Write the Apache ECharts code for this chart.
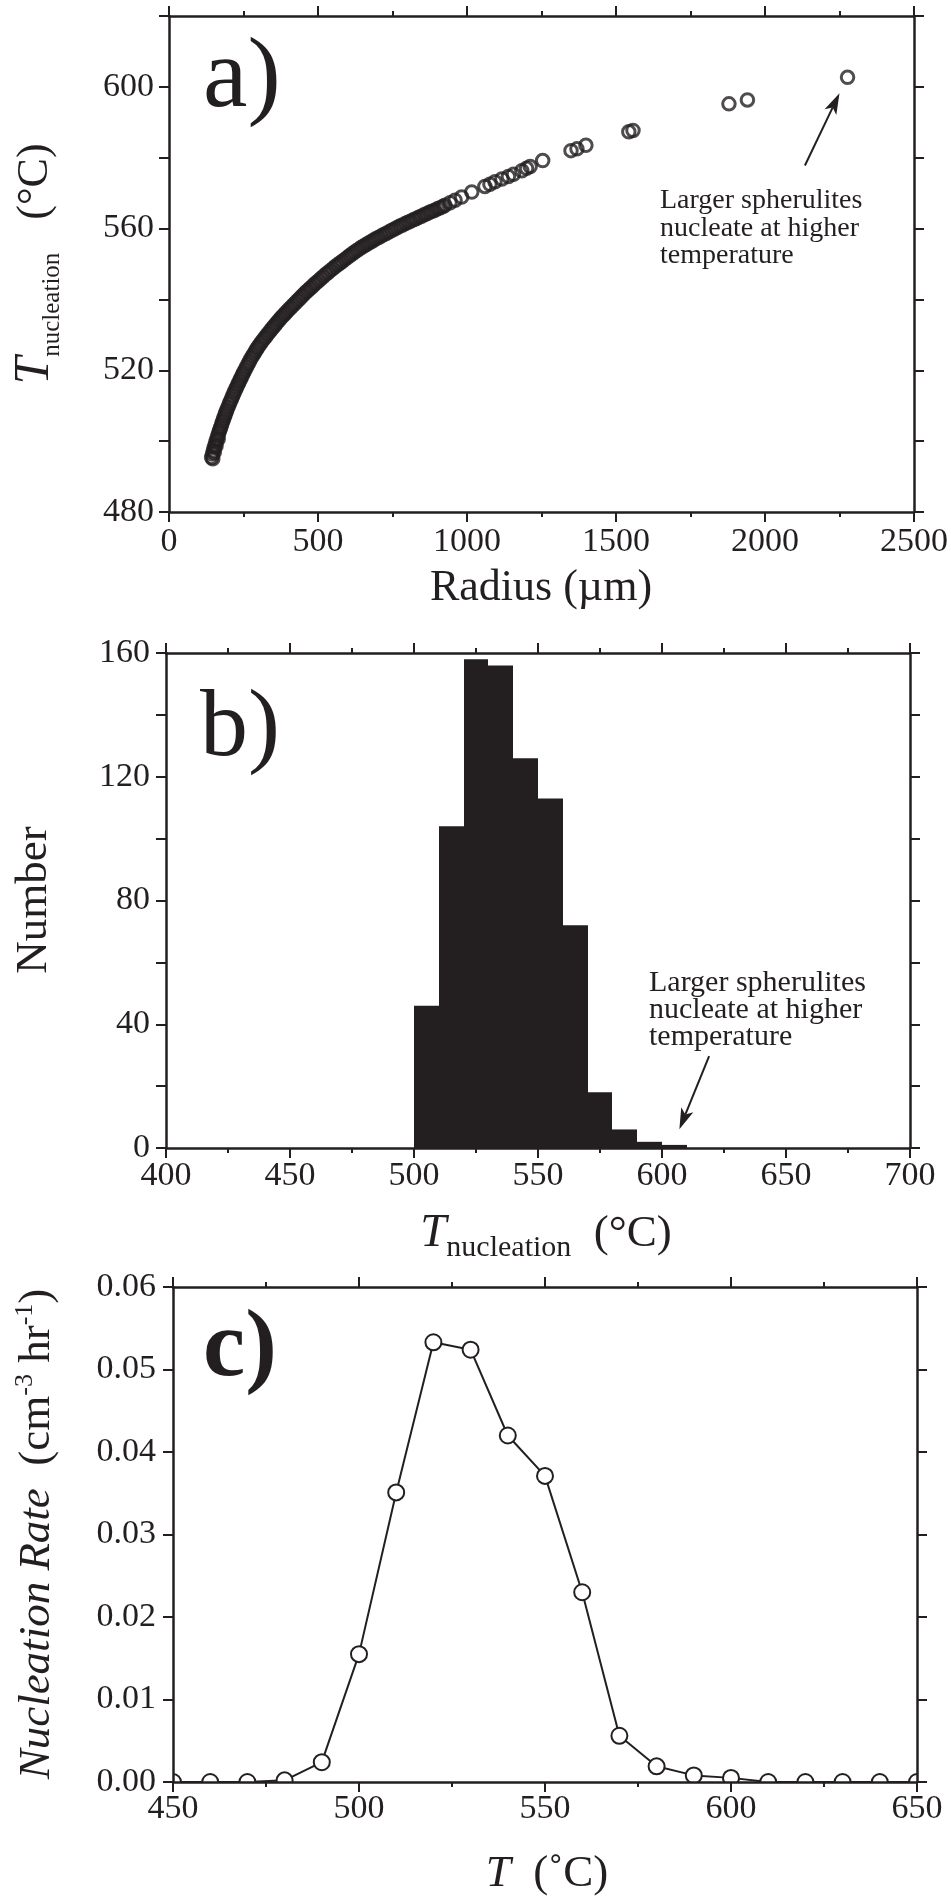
<!DOCTYPE html>
<html>
<head>
<meta charset="utf-8">
<title>Spherulite nucleation</title>
<script src="https://cdn.jsdelivr.net/npm/echarts@6/dist/echarts.min.js"></script>
<style>
  html, body { margin: 0; padding: 0; background: #fff; }
  #main { width: 951px; height: 1900px; }
</style>
</head>
<body>
<div id="main"></div>
<script>
  // a) nucleation temperature against spherulite radius (read off the plot)
  var radius = [143, 146, 149, 152, 155, 158, 161, 164, 167, 170, 173, 176, 179, 182, 185, 188, 191, 194,
    198, 202, 206, 210, 214, 218, 222, 226, 230, 234, 238, 242, 246, 250,
    255, 260, 265, 270, 275, 280, 285, 290, 295, 300,
    306, 312, 318, 324, 330, 336, 342, 348, 354, 360, 366, 372, 378, 384, 390, 396,
    403, 410, 417, 424, 431, 438, 445, 452, 459, 466, 473, 480, 487, 494,
    502, 510, 518, 526, 534, 542, 550, 558, 566, 574, 582, 590, 598, 606, 614, 622, 630, 638, 646, 654, 662, 670, 678, 686, 694,
    703, 712, 721, 730, 739, 748, 757, 766, 775, 784, 793, 802, 811, 820, 829, 838, 847, 856, 865, 874, 883, 892, 901, 910, 919,
    147, 152, 158, 165,
    926, 943, 960, 982, 1016, 1060, 1077, 1094, 1117, 1139, 1156, 1184, 1200, 1212, 1254,
    1349, 1369, 1399, 1543, 1557, 1879, 1941, 2277];
  var tNuc = [495.4, 496.4, 497.3, 498.2, 499.0, 499.9, 500.7, 501.5, 502.3, 503.0, 503.8, 504.5, 505.3, 506.0, 506.7, 507.4, 508.1, 508.8,
    509.6, 510.4, 511.2, 512.0, 512.8, 513.6, 514.3, 515.1, 515.8, 516.5, 517.2, 517.9, 518.6, 519.3,
    520.1, 520.9, 521.7, 522.5, 523.3, 524.0, 524.7, 525.4, 526.1, 526.7,
    527.4, 528.1, 528.8, 529.4, 530.1, 530.7, 531.4, 532.0, 532.6, 533.2, 533.8, 534.4, 535.0, 535.5, 536.0, 536.6,
    537.2, 537.8, 538.4, 539.0, 539.6, 540.2, 540.8, 541.4, 542.0, 542.5, 543.1, 543.6, 544.2, 544.7,
    545.3, 545.9, 546.5, 547.1, 547.6, 548.2, 548.7, 549.3, 549.8, 550.3, 550.8, 551.3, 551.8, 552.3, 552.8, 553.3, 553.8, 554.2, 554.7, 555.1, 555.5, 555.9, 556.3, 556.7, 557.1,
    557.5, 557.9, 558.3, 558.7, 559.1, 559.5, 559.9, 560.3, 560.7, 561.0, 561.4, 561.8, 562.1, 562.5, 562.8, 563.2, 563.5, 563.9, 564.2, 564.6, 564.9, 565.2, 565.6, 565.9, 566.2,
    495.0, 496.8, 498.6, 500.5,
    566.6, 567.3, 568.0, 568.9, 570.3, 571.9, 572.5, 573.2, 574.0, 574.7, 575.3, 576.3, 577.0, 577.5, 579.2,
    582.0, 582.5, 583.5, 587.3, 587.7, 595.2, 596.3, 602.7];

  // b) histogram of nucleation temperatures, 10 degree bins
  var binStart = [500, 510, 520, 530, 540, 550, 560, 570, 580, 590, 600];
  var binCount = [46, 104, 158, 156, 126, 113, 72, 18, 6, 2, 1];
  var binWidth = 10;

  // c) nucleation rate against temperature
  var tempC = [450, 460, 470, 480, 490, 500, 510, 520, 530, 540, 550, 560, 570, 580, 590, 600, 610, 620, 630, 640, 650];
  var rate = [0, 0, 0, 0.0002, 0.0024, 0.0155, 0.0351, 0.0533, 0.0524, 0.042, 0.0371, 0.023, 0.0056, 0.0019, 0.0008, 0.0005, 0, 0, 0, 0, 0];

  // annotation arrows, [x0, y0, x1, y1] in data units (tail -> head)
  var arrowA = [2134, 577.8, 2250, 598.2];
  var arrowB = [619, 29.7, 607, 6.1];

  var INK = '#231f20';
  var FONT = 'Liberation Serif';
  var note = 'Larger spherulites\nnucleate at higher\ntemperature';

  function axis(grid, pos, min, max, interval, minorSplit, fmt, margin, showLabel) {
    return {
      type: 'value', gridIndex: grid, position: pos,
      min: min, max: max, interval: interval, z: 5,
      axisLine: { show: true, onZero: false, lineStyle: { color: INK, width: 2.5 } },
      axisTick: { show: true, inside: false, length: 10, lineStyle: { color: INK, width: 2 } },
      minorTick: { show: minorSplit > 1, splitNumber: minorSplit || 1, length: 5, lineStyle: { color: INK, width: 2 } },
      splitLine: { show: false },
      minorSplitLine: { show: false },
      axisLabel: { show: showLabel, formatter: fmt, margin: margin, fontFamily: FONT, fontSize: 34, color: INK }
    };
  }

  var byForty = function (v) { return v % 40 === 0 ? String(v) : ''; };
  var plain = function (v) { return String(v); };
  var twoDp = function (v) { return v.toFixed(2); };

  function renderArrow(params, api) {
    var p0 = api.coord([api.value(0), api.value(1)]);
    var p1 = api.coord([api.value(2), api.value(3)]);
    var dx = p1[0] - p0[0], dy = p1[1] - p0[1];
    var len = Math.sqrt(dx * dx + dy * dy);
    var ux = dx / len, uy = dy / len;
    var head = 21, half = 6.5;
    var bx = p1[0] - ux * head, by = p1[1] - uy * head;
    var nx = p1[0] - ux * head * 0.75, ny = p1[1] - uy * head * 0.75;
    return {
      type: 'group',
      children: [
        { type: 'line', shape: { x1: p0[0], y1: p0[1], x2: nx, y2: ny }, style: { stroke: INK, lineWidth: 2 } },
        { type: 'polygon', shape: { points: [[p1[0], p1[1]], [bx - uy * half, by + ux * half], [nx, ny], [bx + uy * half, by - ux * half]] },
          style: { fill: INK } }
      ]
    };
  }

  var chart = echarts.init(document.getElementById('main'));
  var option = {
    animation: false,
    backgroundColor: '#fff',
    textStyle: { fontFamily: FONT, color: INK },
    grid: [
      { left: 169, top: 16, width: 745, height: 496, outerBoundsMode: 'none' },
      { left: 166, top: 653, width: 744, height: 495, outerBoundsMode: 'none' },
      { left: 173, top: 1287, width: 744, height: 495, outerBoundsMode: 'none' }
    ],
    xAxis: [
      axis(0, 'bottom', 0, 2500, 500, 2, plain, 13, true),
      axis(0, 'top', 0, 2500, 500, 2, plain, 13, false),
      axis(1, 'bottom', 400, 700, 50, 2, plain, 11, true),
      axis(1, 'top', 400, 700, 50, 2, plain, 11, false),
      axis(2, 'bottom', 450, 650, 50, 2, plain, 10, true),
      axis(2, 'top', 450, 650, 50, 2, plain, 10, false)
    ],
    yAxis: [
      axis(0, 'left', 480, 620, 20, 0, byForty, 15, true),
      axis(0, 'right', 480, 620, 20, 0, byForty, 15, false),
      axis(1, 'left', 0, 160, 20, 0, byForty, 16, true),
      axis(1, 'right', 0, 160, 20, 0, byForty, 16, false),
      axis(2, 'left', 0, 0.06, 0.01, 0, twoDp, 17, true),
      axis(2, 'right', 0, 0.06, 0.01, 0, twoDp, 17, false)
    ],
    series: [
      {
        type: 'scatter', xAxisIndex: 0, yAxisIndex: 0,
        symbol: 'circle', symbolSize: 12.5,
        itemStyle: { color: 'rgba(0,0,0,0)', borderColor: INK, borderWidth: 3 },
        data: radius.map(function (r, i) { return [r, tNuc[i]]; })
      },
      {
        type: 'custom', xAxisIndex: 0, yAxisIndex: 0, z: 4,
        encode: { x: [0, 2], y: [1, 3] },
        renderItem: renderArrow,
        data: [arrowA]
      },
      {
        type: 'custom', xAxisIndex: 2, yAxisIndex: 2,
        renderItem: function (params, api) {
          var p0 = api.coord([api.value(0), api.value(1)]);
          var p1 = api.coord([api.value(0) + binWidth, 0]);
          var x0 = Math.round(p0[0]), x1 = Math.round(p1[0]);
          return {
            type: 'rect',
            shape: { x: x0, y: p0[1], width: x1 - x0, height: p1[1] - p0[1] },
            style: { fill: INK }
          };
        },
        data: binStart.map(function (s, i) { return [s, binCount[i]]; })
      },
      {
        type: 'custom', xAxisIndex: 2, yAxisIndex: 2, z: 4,
        encode: { x: [0, 2], y: [1, 3] },
        renderItem: renderArrow,
        data: [arrowB]
      },
      {
        type: 'line', xAxisIndex: 4, yAxisIndex: 4, z: 2,
        showSymbol: false,
        lineStyle: { color: INK, width: 2 },
        data: tempC.map(function (t, i) { return [t, rate[i]]; })
      },
      {
        type: 'custom', xAxisIndex: 4, yAxisIndex: 4, z: 3, clip: true,
        renderItem: function (params, api) {
          var p = api.coord([api.value(0), api.value(1)]);
          return { type: 'circle', shape: { cx: p[0], cy: p[1], r: 8 }, style: { fill: '#fff', stroke: INK, lineWidth: 2 } };
        },
        data: tempC.map(function (t, i) { return [t, rate[i]]; })
      }
    ],
    graphic: [
      // panel letters
      { type: 'text', x: 203, y: 80, style: { text: 'a)', font: '100px "Liberation Serif"', fill: INK, align: 'left', verticalAlign: 'middle' } },
      { type: 'text', x: 200, y: 730, style: { text: 'b)', font: '96px "Liberation Serif"', fill: INK, align: 'left', verticalAlign: 'middle' } },
      { type: 'text', x: 203, y: 1350, style: { text: 'c)', font: 'bold 95px "Liberation Serif"', fill: INK, align: 'left', verticalAlign: 'middle' } },
      // notes
      { type: 'text', x: 660, y: 187, style: { text: note, font: '28px "Liberation Serif"', lineHeight: 27.5, fill: INK, align: 'left', verticalAlign: 'top' } },
      { type: 'text', x: 649, y: 970, style: { text: note, font: '30px "Liberation Serif"', lineHeight: 27, fill: INK, align: 'left', verticalAlign: 'top' } },
      // axis titles
      { type: 'text', x: 541, y: 588, style: { text: 'Radius (\u00b5m)', font: '44px "Liberation Serif"', fill: INK, align: 'center', verticalAlign: 'middle' } },
      { type: 'text', x: 35, y: 264, rotation: Math.PI / 2,
        style: { text: '{t|T}{s|nucleation}{u|   (\u00b0C)}', align: 'center', verticalAlign: 'middle', fill: INK,
          rich: {
            t: { fontFamily: FONT, fontSize: 50, fontStyle: 'italic', lineHeight: 60, fill: INK },
            s: { fontFamily: FONT, fontSize: 25, lineHeight: 25, verticalAlign: 'bottom', fill: INK },
            u: { fontFamily: FONT, fontSize: 44, lineHeight: 60, fill: INK }
          } } },
      { type: 'text', x: 34, y: 900, rotation: Math.PI / 2, style: { text: 'Number', font: '45px "Liberation Serif"', fill: INK, align: 'center', verticalAlign: 'middle' } },
      { type: 'text', x: 546, y: 1234,
        style: { text: '{t|T}{s|nucleation}{u|  (\u00b0C)}', align: 'center', verticalAlign: 'middle', fill: INK,
          rich: {
            t: { fontFamily: FONT, fontSize: 47, fontStyle: 'italic', lineHeight: 58, fill: INK },
            s: { fontFamily: FONT, fontSize: 30, lineHeight: 30, verticalAlign: 'bottom', fill: INK },
            u: { fontFamily: FONT, fontSize: 45, lineHeight: 58, fill: INK }
          } } },
      { type: 'text', x: 37, y: 1534, rotation: Math.PI / 2,
        style: { text: '{i|Nucleation Rate}{n|  (cm}{p|-3}{n| hr}{p|-1}{n|)}', align: 'center', verticalAlign: 'middle', fill: INK,
          rich: {
            i: { fontFamily: FONT, fontSize: 45, fontStyle: 'italic', lineHeight: 50, fill: INK },
            n: { fontFamily: FONT, fontSize: 45, lineHeight: 50, fill: INK },
            p: { fontFamily: FONT, fontSize: 26, lineHeight: 26, verticalAlign: 'top', fill: INK }
          } } },
      { type: 'text', x: 547, y: 1874,
        style: { text: '{t|T}{u|  (\u02daC)}', align: 'center', verticalAlign: 'middle', fill: INK,
          rich: {
            t: { fontFamily: FONT, fontSize: 45, fontStyle: 'italic', lineHeight: 50, fill: INK },
            u: { fontFamily: FONT, fontSize: 45, lineHeight: 50, fill: INK }
          } } }
    ]
  };
  chart.setOption(option);
</script>
</body>
</html>
